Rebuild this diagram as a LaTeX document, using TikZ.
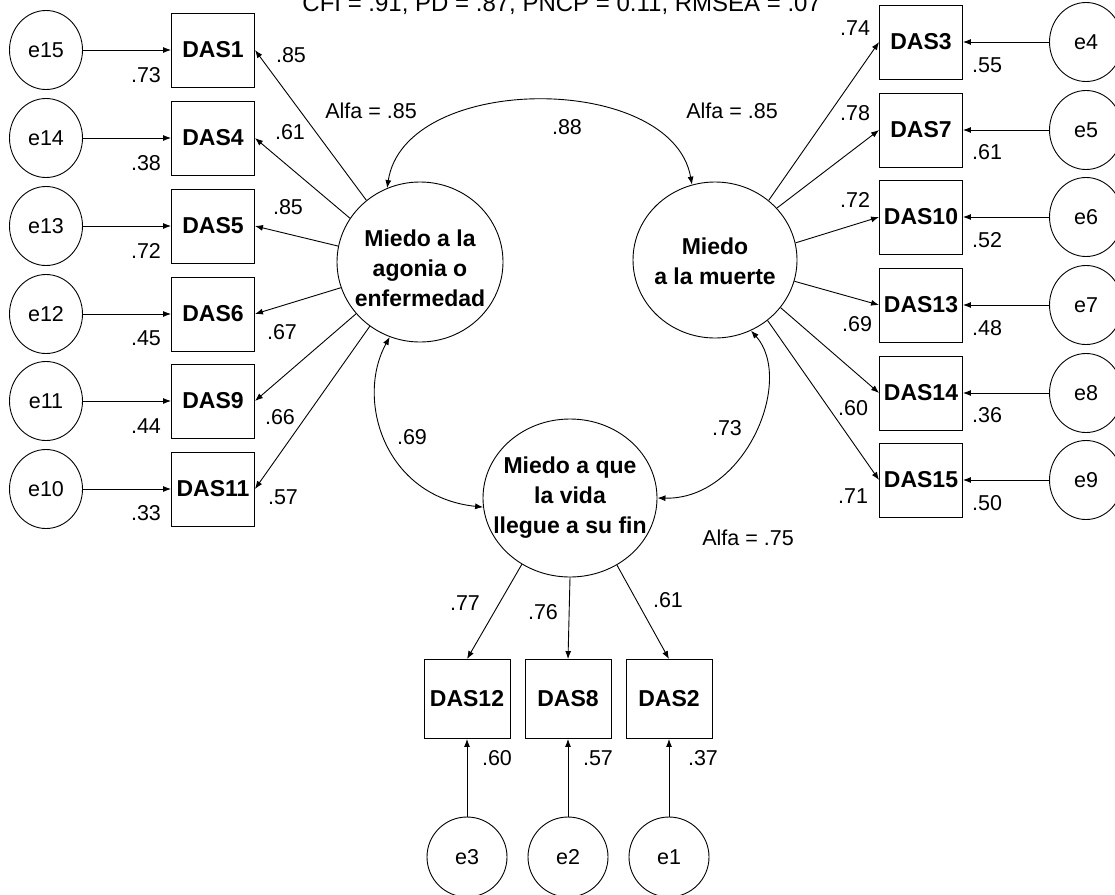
\documentclass[tikz,border=0pt]{standalone}
\usepackage{fontspec}
\setmainfont{Liberation Sans}
\usetikzlibrary{arrows.meta,shapes.geometric}
\begin{document}
\begin{tikzpicture}[x=1pt,y=-1pt,line width=0.9pt,
  obs/.style={draw,rectangle,minimum width=83pt,minimum height=74pt,inner sep=0pt,
    font=\bfseries\fontsize{23}{27}\selectfont},
  obsb/.style={obs,minimum width=86pt,minimum height=79pt},
  err/.style={draw,ellipse,minimum width=73pt,minimum height=79pt,inner sep=0pt,
    font=\fontsize{21.5}{25}\selectfont},
  errb/.style={err,minimum width=80pt,minimum height=80pt},
  lat/.style={draw,ellipse,inner sep=0pt},
  lattext/.style={align=center,inner sep=0pt,font=\bfseries\fontsize{23}{30}\selectfont},
  lbl/.style={inner sep=0pt,font=\fontsize{21.5}{25}\selectfont},
  tip/.style={-{Latex[length=8pt,width=6pt]}},
  both/.style={{Latex[length=8pt,width=6pt]}-{Latex[length=8pt,width=6pt]}}
]
\useasboundingbox (0,0) rectangle (1115,894);
\fill[white] (0,0) rectangle (1115,894);

% fit indices (top line, partly above the page edge)
\node[anchor=base west,inner sep=0pt,font=\fontsize{24}{28}\selectfont] (fit) at (302,12)
  {CFI = .91, PD = .87, PNCP = 0.11, RMSEA = .07};

% latent factors
\node[lat,minimum width=166pt,minimum height=160pt] (f1) at (420,262) {};
\node[lattext] (f1t) at (420,268) {Miedo a la\\agonia o\\enfermedad};
\node[lat,minimum width=164pt,minimum height=156pt] (f2) at (715,260) {};
\node[lattext] (f2t) at (715,261) {Miedo\\a la muerte};
\node[lat,minimum width=174pt,minimum height=158pt] (f3) at (570,498) {};
\node[lattext] (f3t) at (570,498) {Miedo a que\\la vida\\llegue a su fin};

% left indicators
\node[obs] (das1)  at (213,50)  {DAS1};
\node[obs] (das4)  at (213,138) {DAS4};
\node[obs] (das5)  at (213,226) {DAS5};
\node[obs] (das6)  at (213,314) {DAS6};
\node[obs] (das9)  at (213,401) {DAS9};
\node[obs] (das11) at (213,489) {DAS11};

\node[err] (e15) at (46,50)  {e15};
\node[err] (e14) at (46,138) {e14};
\node[err] (e13) at (46,226) {e13};
\node[err] (e12) at (46,314) {e12};
\node[err] (e11) at (46,401) {e11};
\node[err] (e10) at (46,489) {e10};

\draw[tip] (e15) -- (das1);
\draw[tip] (e14) -- (das4);
\draw[tip] (e13) -- (das5);
\draw[tip] (e12) -- (das6);
\draw[tip] (e11) -- (das9);
\draw[tip] (e10) -- (das11);

\node[lbl] (r1)  at (146,75)  {.73};
\node[lbl] (r4)  at (146,163) {.38};
\node[lbl] (r5)  at (146,251) {.72};
\node[lbl] (r6)  at (146,338) {.45};
\node[lbl] (r9)  at (146,426) {.44};
\node[lbl] (r11) at (146,513) {.33};

\draw[tip] (f1.131) -- (das1.east);
\draw[tip] (f1.148) -- (das4.east);
\draw[tip] (f1.169) -- (das5.east);
\draw[tip] (f1.198) -- (das6.east);
\draw[tip] (f1.219) -- (das9.east);
\draw[tip] (f1.232) -- (das11.east);

\node[lbl] (l1)  at (291,55)  {.85};
\node[lbl] (l4)  at (290,132) {.61};
\node[lbl] (l5)  at (288,207) {.85};
\node[lbl] (l6)  at (282,332) {.67};
\node[lbl] (l9)  at (280,417) {.66};
\node[lbl] (l11) at (283,497) {.57};

% right indicators
\node[obs] (das3)  at (921,42)  {DAS3};
\node[obs] (das7)  at (921,130) {DAS7};
\node[obs] (das10) at (921,217) {DAS10};
\node[obs] (das13) at (921,305) {DAS13};
\node[obs] (das14) at (921,393) {DAS14};
\node[obs] (das15) at (921,480) {DAS15};

\node[err] (e4) at (1086,42)  {e4};
\node[err] (e5) at (1086,130) {e5};
\node[err] (e6) at (1086,217) {e6};
\node[err] (e7) at (1086,305) {e7};
\node[err] (e8) at (1086,393) {e8};
\node[err] (e9) at (1086,480) {e9};

\draw[tip] (e4) -- (das3);
\draw[tip] (e5) -- (das7);
\draw[tip] (e6) -- (das10);
\draw[tip] (e7) -- (das13);
\draw[tip] (e8) -- (das14);
\draw[tip] (e9) -- (das15);

\node[lbl] (r3)  at (987,65)  {.55};
\node[lbl] (r7)  at (987,152) {.61};
\node[lbl] (r10) at (987,240) {.52};
\node[lbl] (r13) at (987,328) {.48};
\node[lbl] (r14) at (987,415) {.36};
\node[lbl] (r15) at (987,503) {.50};

\draw[tip] (f2.48)  -- (das3.west);
\draw[tip] (f2.40)  -- (das7.west);
\draw[tip] (f2.12)  -- (das10.west);
\draw[tip] (f2.-15) -- (das13.west);
\draw[tip] (f2.-36) -- (das14.west);
\draw[tip] (f2.-49) -- (das15.west);

\node[lbl] (l3)  at (855,28)  {.74};
\node[lbl] (l7)  at (855,113) {.78};
\node[lbl] (l10) at (855,200) {.72};
\node[lbl] (l13) at (857,324) {.69};
\node[lbl] (l14) at (853,408) {.60};
\node[lbl] (l15) at (853,496) {.71};

% bottom indicators
\node[obsb] (das12) at (467,699) {DAS12};
\node[obsb] (das8)  at (568,699) {DAS8};
\node[obsb] (das2)  at (669,699) {DAS2};

\node[errb] (e3) at (467,857) {e3};
\node[errb] (e2) at (568,857) {e2};
\node[errb] (e1) at (669,857) {e1};

\draw[tip] (e3) -- (das12);
\draw[tip] (e2) -- (das8);
\draw[tip] (e1) -- (das2);

\node[lbl] (r12) at (497,758) {.60};
\node[lbl] (r8)  at (598,758) {.57};
\node[lbl] (r2)  at (703,758) {.37};

\draw[tip] (f3.234) -- (das12.north);
\draw[tip] (f3.270) -- (das8.north);
\draw[tip] (f3.305) -- (das2.north);

\node[lbl] (l12) at (465,603) {.77};
\node[lbl] (l8)  at (543,612) {.76};
\node[lbl] (l2)  at (668,600) {.61};

% factor correlations
\draw[both] (f1.114) .. controls (405,72) and (672,72) .. (f2.107);
\draw[both] (f1.248) .. controls (355,400) and (385,497) .. (f3.186);
\draw[both] (f2.297) .. controls (795,380) and (745,500) .. (f3.0);

\node[lbl] (c12) at (567,127) {.88};
\node[lbl] (c13) at (412,437) {.69};
\node[lbl] (c23) at (727,428) {.73};

% reliabilities
\node[lbl] (a1) at (371,111) {Alfa = .85};
\node[lbl] (a2) at (732,111) {Alfa = .85};
\node[lbl] (a3) at (748,538) {Alfa = .75};
\end{tikzpicture}
\end{document}
